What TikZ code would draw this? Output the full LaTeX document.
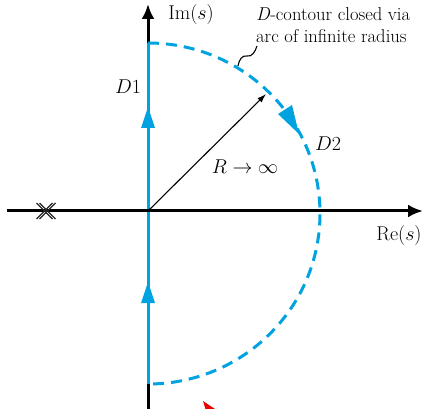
\RequirePackage{fix-cm}
\documentclass[tikz,border=0pt]{standalone}
\usepackage{fontspec}
\usetikzlibrary{arrows.meta}
\definecolor{cblue}{RGB}{0,162,224}
\definecolor{cred}{RGB}{235,0,0}
\tikzset{
  axis/.style={line width=3pt,-{Latex[length=15pt,width=13pt]}},
  contour/.style={cblue,line width=3pt},
  dashedarc/.style={cblue,line width=3pt,dash pattern=on 11pt off 7pt},
  lbl/.style={font=\fontsize{20}{24}\selectfont,inner sep=0pt},
  callout/.style={font=\fontsize{18.6}{22}\selectfont,inner sep=0pt,align=left}
}
\begin{document}
\begin{tikzpicture}[x=1pt,y=-1pt]
\useasboundingbox (0,0) rectangle (426,409);
\coordinate (O) at (148,211);
\coordinate (xl) at (7,211);
\coordinate (xr) at (423,211);
\coordinate (yb) at (148,409);
\coordinate (yt) at (148,4);
\coordinate (top) at (148,43);
\coordinate (bot) at (148,384);
\coordinate (Rtip) at (266,94);
% vertical axis
\draw[axis] (yb) -- (yt);
% blue contour D1
\draw[contour] (bot) -- (top);
\fill[cblue] (148,107) -- (141,128) -- (155,128) -- cycle;
\fill[cblue] (148,282) -- (141,303) -- (155,303) -- cycle;
% dashed arc D2
\draw[dashedarc] (top) arc[start angle=-90,end angle=90,x radius=172,y radius=170.5];
\fill[cblue] (299,134) -- (278,114) -- (292,105) -- cycle;
% horizontal axis
\draw[axis] (xl) -- (xr);
% double pole
\foreach \dx in {-1.5,1.5}{
  \draw[line width=1.4pt,black!85] (46+\dx-8,203) -- (46+\dx+8,219);
  \draw[line width=1.4pt,black!85] (46+\dx-8,219) -- (46+\dx+8,203);
}
% radius arrow
\draw[line width=1.1pt,-{Latex[length=9pt,width=6pt]}] (O) -- (Rtip);
% labels
\node[lbl] (im) at (191,15) {$\mathrm{Im}(s)$};
\node[lbl] (re) at (399,236) {$\mathrm{Re}(s)$};
\node[lbl] (d1) at (128,87) {$D1$};
\node[lbl] (d2) at (328,144) {$D2$};
\node[lbl] (R) at (245,167) {$R\to\infty$};
\node[callout,anchor=north west] (txt) at (256,7) {\textit{D}-contour closed via\\arc of infinite radius};
% callout squiggle
\coordinate (s1) at (238,66);
\coordinate (s2) at (257,46);
\draw[line width=1.1pt] (s1) .. controls (239,60) and (242,55) .. (247,56)
  .. controls (252,57) and (255,52) .. (s2);
% red partial arrow at bottom
\begin{scope}
\clip (0,0) rectangle (426,409);
\fill[cred] (203,401) -- (218,411) -- (207,414) -- cycle;
\end{scope}
\end{tikzpicture}
\end{document}
